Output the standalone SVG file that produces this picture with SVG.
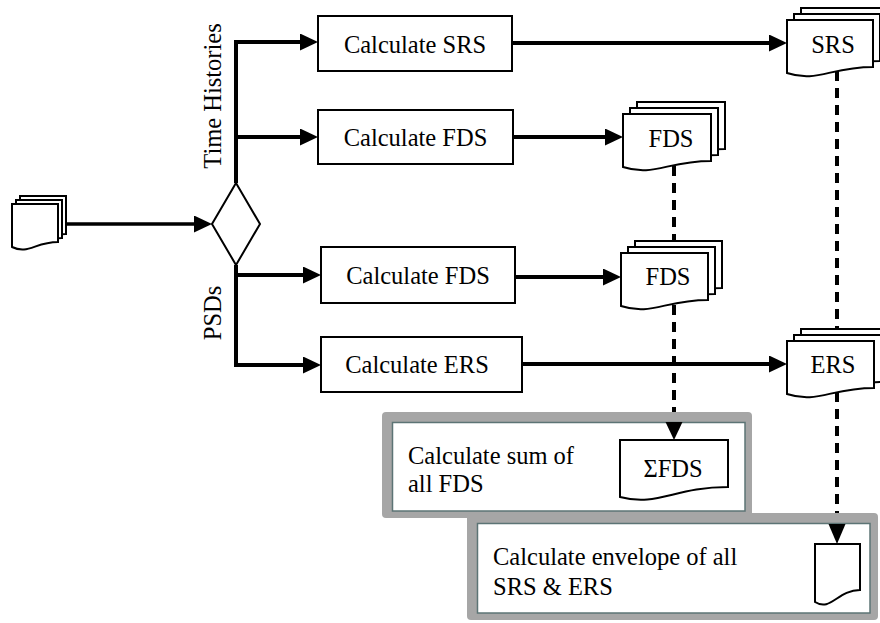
<svg xmlns="http://www.w3.org/2000/svg" width="880" height="623" viewBox="0 0 880 623">
<style>
  .t { font-family: "Liberation Serif", "Times New Roman", serif; font-size: 24.5px; fill: #000; }
  .mid { text-anchor: middle; }
  .proc { fill: #fff; stroke: #000; stroke-width: 2; }
  .doc { fill: #fff; stroke: #000; stroke-width: 2; stroke-linejoin: miter; }
  .band { fill: #a6a6a6; }
  .inner { fill: #fff; stroke: #5c7475; stroke-width: 1.5; }
  .solid { fill: none; stroke: #000; stroke-width: 4; stroke-linejoin: miter; }
  .dash { fill: none; stroke: #000; stroke-width: 4; stroke-dasharray: 10 7; }
</style>
<defs>
  <marker id="arr" markerUnits="userSpaceOnUse" markerWidth="18" markerHeight="17" refX="8" refY="8.5" orient="auto" viewBox="0 0 18 17">
    <path d="M0,0 L18,8.5 L0,17 Z" fill="#000"/>
  </marker>
  <marker id="dropA" markerUnits="userSpaceOnUse" markerWidth="28" markerHeight="17" refX="0" refY="8.5" orient="auto" viewBox="0 0 28 17" overflow="visible">
    <path d="M10,0 L28,8.5 L10,17 Z" fill="#000"/>
  </marker>
  <marker id="dropB" markerUnits="userSpaceOnUse" markerWidth="31" markerHeight="17" refX="0" refY="8.5" orient="auto" viewBox="0 0 31 17" overflow="visible">
    <path d="M11,0 L31,8.5 L11,17 Z" fill="#000"/>
  </marker>
</defs>

<g id="input-docs">
  <path class="doc" d="M20,196 H66 V234 C43,234 36.1,247 20,239 Z"/>
  <path class="doc" d="M16,200 H62 V238 C39,238 32.1,251 16,243 Z"/>
  <path class="doc" d="M12,204 H58 V242 C35,242 28.1,255 12,247 Z"/>
</g>

<g id="decision">
  <polygon points="236,183 260,224 236,265 212,224" fill="#fff" stroke="#000" stroke-width="2"/>
</g>

<g id="label-time-histories">
  <text class="t mid" transform="translate(221,96) rotate(-90)">Time Histories</text>
</g>
<g id="label-psds">
  <text class="t mid" transform="translate(221,313) rotate(-90)">PSDs</text>
</g>

<g id="calc-srs">
  <rect class="proc" x="318" y="16" width="194" height="55"/>
  <text class="t mid" x="415" y="53">Calculate SRS</text>
</g>
<g id="calc-fds-1">
  <rect class="proc" x="318" y="110" width="195" height="54"/>
  <text class="t mid" x="415.5" y="146">Calculate FDS</text>
</g>
<g id="calc-fds-2">
  <rect class="proc" x="321" y="247" width="194" height="56"/>
  <text class="t mid" x="418" y="284">Calculate FDS</text>
</g>
<g id="calc-ers">
  <rect class="proc" x="321" y="337" width="201" height="55"/>
  <text class="t mid" x="417" y="373">Calculate ERS</text>
</g>

<g id="doc-srs">
  <path class="doc" d="M801,8 H887 V55 C844,55 831.1,71 801,61 Z"/>
  <path class="doc" d="M794,14 H880 V61 C837,61 824.1,77 794,67 Z"/>
  <path class="doc" d="M787,20 H873 V67 C830,67 817.1,83 787,73 Z"/>
  <text class="t mid" x="833" y="53">SRS</text>
</g>
<g id="doc-fds-1">
  <path class="doc" d="M637,102 H725 V149 C681,149 667.8,165 637,155 Z"/>
  <path class="doc" d="M630,108 H718 V155 C674,155 660.8,171 630,161 Z"/>
  <path class="doc" d="M623,114 H711 V161 C667,161 653.8,177 623,167 Z"/>
  <text class="t mid" x="671" y="147">FDS</text>
</g>
<g id="doc-fds-2">
  <path class="doc" d="M635,241 H722 V288 C678.5,288 665.5,304 635,294 Z"/>
  <path class="doc" d="M628,247 H715 V294 C671.5,294 658.5,310 628,300 Z"/>
  <path class="doc" d="M621,253 H708 V300 C664.5,300 651.5,316 621,306 Z"/>
  <text class="t mid" x="668" y="285">FDS</text>
</g>
<g id="doc-ers">
  <path class="doc" d="M801,329 H888 V376 C844.5,376 831.5,392 801,382 Z"/>
  <path class="doc" d="M794,335 H881 V382 C837.5,382 824.5,398 794,388 Z"/>
  <path class="doc" d="M787,341 H874 V388 C830.5,388 817.5,404 787,394 Z"/>
  <text class="t mid" x="833" y="373">ERS</text>
</g>

<g id="sum-fds">
  <rect class="band" x="382" y="412" width="370" height="106" rx="4"/>
  <rect class="inner" x="392.5" y="422.5" width="352.5" height="88.5"/>
  <text class="t" x="408" y="464">Calculate sum of</text>
  <text class="t" x="408" y="492">all FDS</text>
  <path class="doc" d="M620,440 H728 V487 C674,487 657.8,507 620,497 Z"/>
  <text class="t mid" x="673" y="477">ΣFDS</text>
</g>

<g id="envelope">
  <rect class="band" x="467" y="513" width="411" height="107" rx="4"/>
  <rect class="inner" x="477.5" y="523.5" width="392.5" height="89.5"/>
  <text class="t" x="493" y="565">Calculate envelope of all</text>
  <text class="t" x="493" y="595">SRS &amp; ERS</text>
  <path class="doc" d="M815,544 H860 V590 C837.5,590 830.75,612 815,602 Z"/>
</g>

<g id="connectors">
  <path class="solid" style="stroke-width:3.5" d="M67,224 H202" marker-end="url(#arr)"/>
  <path class="solid" d="M236,183 V42 H308" marker-end="url(#arr)"/>
  <path class="solid" d="M236,137 H308" marker-end="url(#arr)"/>
  <path class="solid" d="M236,265 V365 H311" marker-end="url(#arr)"/>
  <path class="solid" d="M236,275 H311" marker-end="url(#arr)"/>
  <path class="solid" d="M512,43 H777" marker-end="url(#arr)"/>
  <path class="solid" d="M513,137 H613" marker-end="url(#arr)"/>
  <path class="solid" d="M515,277 H611" marker-end="url(#arr)"/>
  <path class="solid" d="M522,364 H777" marker-end="url(#arr)"/>
  <path class="dash" d="M674,166 V241"/>
  <path class="dash" d="M674,305 V412" marker-end="url(#dropA)"/>
  <path class="dash" d="M837,71 V329"/>
  <path class="dash" d="M837,392 V513" marker-end="url(#dropB)"/>
</g>
</svg>
